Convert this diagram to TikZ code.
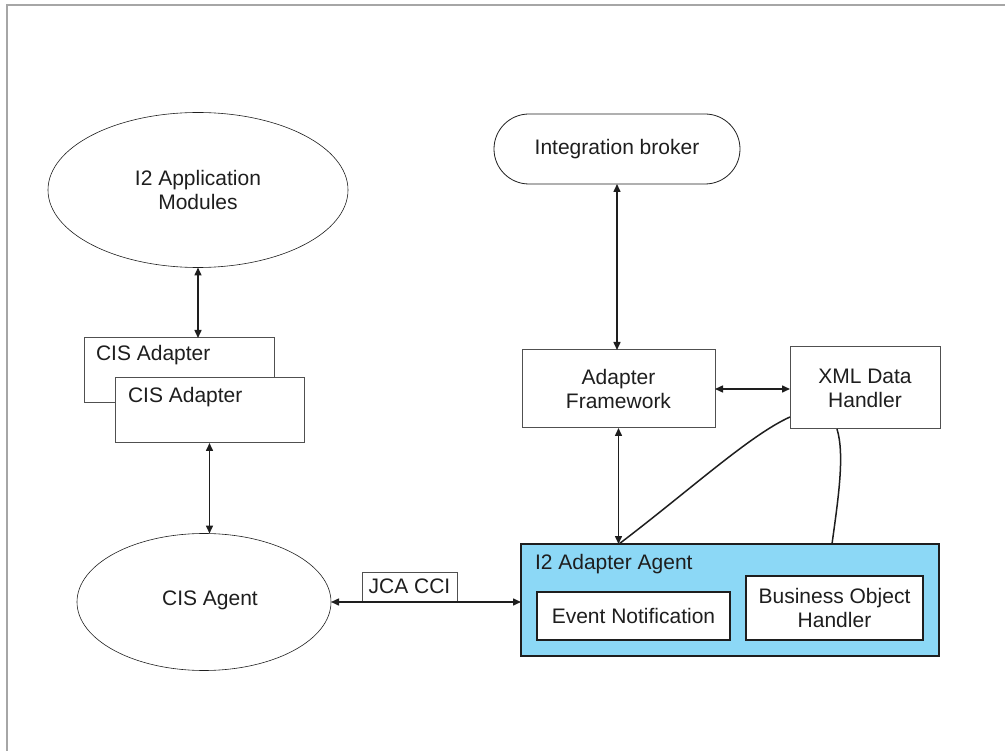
\documentclass[tikz,border=0pt]{standalone}
\usepackage{fontspec}
\setmainfont{Liberation Sans}
\usetikzlibrary{arrows.meta,shapes.geometric}
\definecolor{agentblue}{RGB}{140,216,246}
\definecolor{inkc}{RGB}{30,30,30}
\definecolor{boxline}{RGB}{80,80,80}
\begin{document}
\begin{tikzpicture}[x=1pt,y=-1pt,
  every node/.style={font=\fontsize{21}{24}\selectfont, text=inkc, inner sep=0pt, outer sep=0pt},
  ell/.style={draw=inkc, line width=0.6pt, ellipse},
  box/.style={draw=boxline, line width=1pt, fill=white, rectangle},
  conn/.style={draw=inkc, line width=1.5pt, {Triangle[length=8pt,width=7pt]}-{Triangle[length=8pt,width=7pt]}},
  plain/.style={draw=inkc, line width=1.5pt},
  lbl/.style={anchor=west}
]
\useasboundingbox (0,0) rectangle (1005,751);
% frame (top and left only)
\draw[draw=gray!70, line width=1.5pt] (7,751) -- (7,5) -- (1005,5);

% left column
\node[ell, minimum width=300pt, minimum height=155pt, align=center] (app) at (198,190) {I2 Application\\Modules};
\node[box, minimum width=190pt, minimum height=65pt] (cis1) at (179,370.5) {};
\node[lbl] (cis1t) at (96,355) {CIS Adapter};
\node[box, minimum width=189pt, minimum height=65pt] (cis2) at (209.5,410.5) {};
\node[lbl] (cis2t) at (128,397) {CIS Adapter};
\node[ell, minimum width=254pt, minimum height=137pt] (cisag) at (204,602) {};
\node (cisagt) at (210,600) {CIS Agent};
\node[box, minimum width=95pt, minimum height=29pt] (jca) at (409.5,586.5) {JCA CCI};

% right column
\node[draw=inkc, line width=0.8pt, rectangle, rounded corners=35pt, minimum width=246pt, minimum height=70pt] (broker) at (617,149) {Integration broker};
\node[box, minimum width=193pt, minimum height=78pt, align=center] (af) at (618.5,389) {Adapter\\Framework};
\node[box, minimum width=150pt, minimum height=82pt, align=center] (xml) at (865,388) {XML Data\\Handler};
\node[draw=inkc, line width=1.5pt, fill=agentblue, rectangle, minimum width=418pt, minimum height=112pt] (agent) at (730,600) {};
\node[lbl] (agentt) at (535,564) {I2 Adapter Agent};
\node[draw=inkc, line width=1.2pt, fill=white, rectangle, minimum width=193pt, minimum height=48pt] (ev) at (633.5,616) {Event Notification};
\node[draw=inkc, line width=1.2pt, fill=white, rectangle, minimum width=177pt, minimum height=64pt, align=center] (boh) at (834.5,608) {Business Object\\Handler};

% connectors
\draw[conn] (app.south) -- (app.south |- cis1.north);
\draw[conn] (cis2.south) -- (cis2.south |- cisag.north);
\draw[conn] (cisag.east) -- (agent.west |- cisag.east);
\draw[conn] (broker.south) -- (broker.south |- af.north);
\draw[conn] (af.east) -- (xml.west |- af.east);
\draw[conn] (af.south) -- (af.south |- agent.north);
\coordinate (xa) at (790,417);
\coordinate (xb) at (837,429);
\coordinate (ta) at (619,544);
\coordinate (tb) at (832,544);
\draw[plain] (ta) .. controls (690,490) and (750,435) .. (xa);
\draw[plain] (xb) .. controls (845,455) and (838,500) .. (tb);
\end{tikzpicture}
\end{document}
